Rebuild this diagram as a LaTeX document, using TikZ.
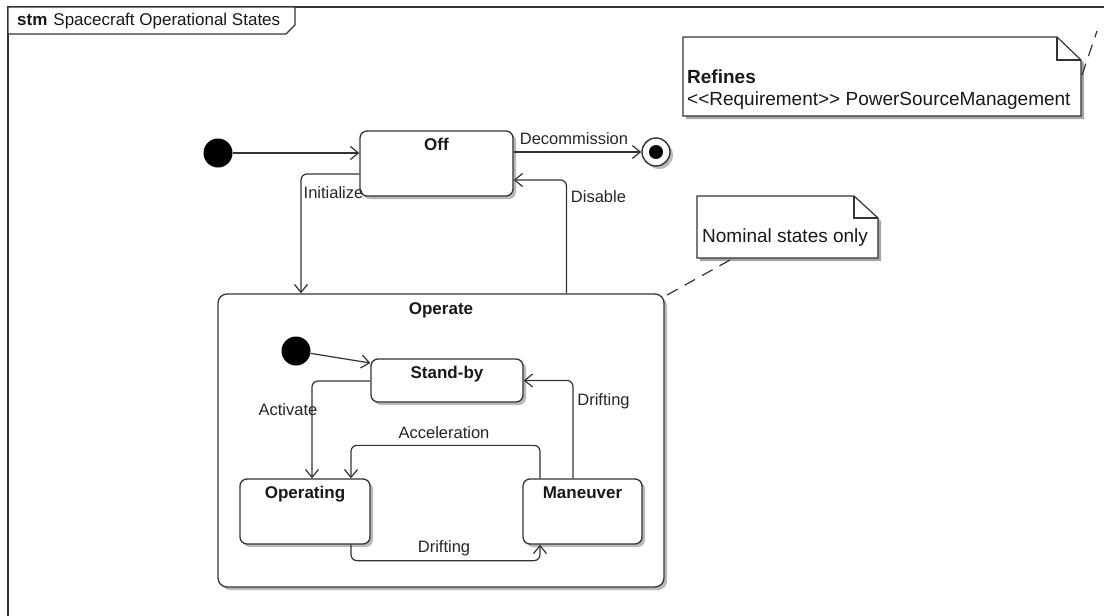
\documentclass[tikz,border=0pt]{standalone}
\usepackage{fontspec}
\setmainfont{Liberation Sans}
\usetikzlibrary{arrows.meta,shadows}
\begin{document}
\begin{tikzpicture}[x=1pt,y=-1pt,
  lbl/.style={font=\fontsize{16.5}{18}\selectfont, text=black!85, inner sep=0pt},
  bld/.style={font=\bfseries\fontsize{17}{19}\selectfont, text=black!90, inner sep=0pt, anchor=north},
  notetxt/.style={font=\fontsize{19}{22}\selectfont, text=black!90, inner sep=0pt, anchor=west},
  shad/.style={drop shadow={shadow xshift=3pt, shadow yshift=-3pt, fill=black!50, opacity=0.55}},
  stbox/.style={draw=black!80, line width=1.3pt, rounded corners=7pt, fill=white, shad, inner sep=0pt},
  tr/.style={draw=black!80, line width=1.2pt, rounded corners=6pt, -{Straight Barb[length=8pt,width=13pt]}},
  startdot/.style={circle, fill=black, minimum size=29pt, inner sep=0pt},
  link/.style={draw=black!80, line width=1.2pt, dash pattern=on 12pt off 8pt},
  notefill/.style={fill=white, draw=black!80, line width=1.2pt, line join=miter},
  noteshadow/.style={fill=black!35},
]
\useasboundingbox (0,0) rectangle (1104,616);
% frame
\draw[black!80, line width=1.6pt] (8,640) -- (8,7) -- (1120,7);
\draw[black!80, line width=1.3pt, fill=white] (8,7) -- (295,7) -- (295,25) -- (286,34) -- (8,34) -- cycle;
\node[anchor=west, font=\fontsize{17}{19}\selectfont, inner sep=0pt, text=black!90] (title) at (17,21) {\textbf{stm}\hspace{6pt}Spacecraft Operational States};

% notes
\fill[noteshadow] (686,40) -- (1060,40) -- (1084,63) -- (1084,119) -- (686,119) -- cycle;
\draw[notefill] (683,37) -- (1057,37) -- (1081,60) -- (1081,116) -- (683,116) -- cycle;
\draw[black!80, line width=1.2pt] (1057,37) -- (1057,60) -- (1081,60);
\node[notetxt, font=\bfseries\fontsize{19}{22}\selectfont] (refl) at (687,77) {Refines};
\node[notetxt] (reqt) at (687,101) {<\kern0pt<Requirement>\kern0pt> PowerSourceManagement};
\coordinate (refc) at (1082,75);
\coordinate (refend) at (1097,31);
\draw[link] (refc) -- (refend);

\fill[noteshadow] (700,199) -- (857,199) -- (881,221) -- (881,261) -- (700,261) -- cycle;
\draw[notefill] (697,196) -- (854,196) -- (878,218) -- (878,258) -- (697,258) -- cycle;
\draw[black!80, line width=1.2pt] (854,196) -- (854,218) -- (878,218);
\node[notetxt] (nom) at (702,238) {Nominal states only};
\coordinate (nomc) at (730,260);

% top level states
\node[startdot] (i1) at (218,153) {};
\node[stbox, minimum width=153pt, minimum height=65pt] (off) at (436.5,163.5) {};
\node[bld] (offl) at ([yshift=-8pt]off.north) {Off};
\node[circle, draw=black!80, line width=1.4pt, fill=white, minimum size=28pt, inner sep=0pt, shad] (fin) at (656,152) {};
\node[circle, fill=black, minimum size=14pt, inner sep=0pt] (findot) at (fin) {};

\node[stbox, rounded corners=9pt, minimum width=446pt, minimum height=293pt] (operate) at (441,440.5) {};
\node[bld] (operatel) at ([yshift=-9pt]operate.north) {Operate};

% inner states
\node[startdot] (i2) at (296,351) {};
\node[stbox, minimum width=152pt, minimum height=43pt] (standby) at (447,380.5) {};
\node[bld] (standbyl) at ([yshift=-8pt]standby.north) {Stand-by};
\node[stbox, minimum width=130pt, minimum height=65pt] (operating) at (305,511.5) {};
\node[bld] (operatingl) at ([yshift=-8pt]operating.north) {Operating};
\node[stbox, minimum width=119pt, minimum height=65pt] (maneuver) at (582.5,511.5) {};
\node[bld] (maneuverl) at ([yshift=-8pt]maneuver.north) {Maneuver};

% transitions
\draw[tr] (i1.east) -- (i1.east -| off.west);
\draw[tr] ([yshift=-10.5pt]off.west) -| ([xshift=-140pt]operate.north);
\node[lbl] (linit) at (333.5,193) {Initialize};
\draw[tr] (off.east |- fin) -- (fin.west);
\node[lbl] (ldec) at (574,139) {Decommission};
\draw[tr] ([xshift=125.5pt]operate.north) |- ([yshift=-16.5pt]off.east);
\node[lbl] (ldis) at (598.5,197) {Disable};

\draw[tr] (i2) -- ([yshift=17.5pt]standby.west);
\draw[tr] ([yshift=-0.5pt]standby.west) -| ([xshift=7pt]operating.north);
\node[lbl] (lact) at (288,410) {Activate};
\draw[tr] ([xshift=-42.5pt]maneuver.north) -- ++(0,-33) -| ([xshift=46pt]operating.north);
\node[lbl] (lacc) at (444,433) {Acceleration};
\draw[tr] ([xshift=-9.5pt]maneuver.north) |- (standby.east);
\node[lbl] (ldr1) at (603.5,401) {Drifting};
\draw[tr] ([xshift=46pt]operating.south) -- ++(0,16) -| ([xshift=-42.5pt]maneuver.south);
\node[lbl] (ldr2) at (444,548) {Drifting};

\draw[link] (nomc) -- ([yshift=-3pt]operate.north east);
\end{tikzpicture}
\end{document}
